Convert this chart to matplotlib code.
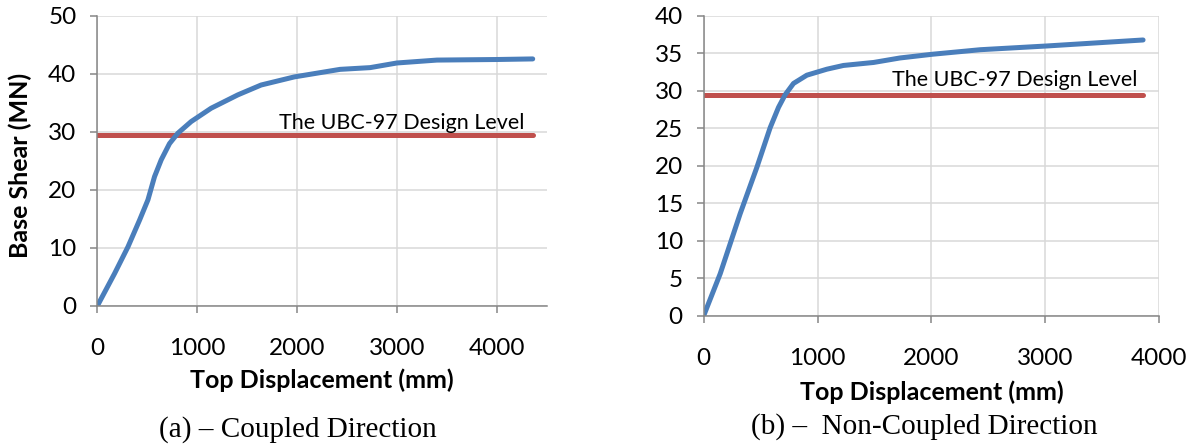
import matplotlib
matplotlib.use("Agg")
import matplotlib.pyplot as plt

# (a) coupled direction
disp_a = [0, 173, 307, 423, 507, 573, 640, 723, 807, 940, 1140, 1407, 1640, 1973,
          2431, 2732, 3000, 3401, 4003, 4360]
shear_a = [0, 5.6, 10.2, 14.8, 18.3, 22.3, 25.2, 28.0, 29.8, 31.8, 34.1, 36.4, 38.1, 39.5,
           40.8, 41.1, 41.9, 42.4, 42.5, 42.6]

# (b) non-coupled direction
disp_b = [0, 145, 320, 467, 584, 657, 716, 789, 906, 1082, 1228, 1493, 1725, 2012,
          2430, 3015, 3860]
shear_b = [0, 5.6, 13.6, 19.8, 25.1, 27.8, 29.5, 31.0, 32.1, 32.9, 33.4, 33.8, 34.4, 34.9,
           35.5, 36.0, 36.8]

design_level = 29.4
design_a = [0, 4360]
design_b = [0, 3860]

ticks_a_x = [0, 1000, 2000, 3000, 4000]
ticks_a_y = [0, 10, 20, 30, 40, 50]
ticks_b_x = [0, 1000, 2000, 3000, 4000]
ticks_b_y = [0, 5, 10, 15, 20, 25, 30, 35, 40]

label_text = "The UBC-97 Design Level"
xlabel = "Top Displacement (mm)"
ylabel = "Base Shear (MN)"
caption_a = "(a) \u2013 Coupled Direction"
caption_b = "(b) \u2013  Non-Coupled Direction"

blue = "#4a7ebb"
red = "#c0504d"
axis_gray = "#868686"
grid_gray = "#d9d9d9"
sans = ["Lato", "DejaVu Sans"]

fig = plt.figure(figsize=(11.93, 4.46), dpi=100)
W, H = 1193, 446


def make_axes(x0, x1, y0, y1):
	return fig.add_axes([x0 / W, 1 - y1 / H, (x1 - x0) / W, (y1 - y0) / H])


def style(ax, xticks, yticks, xlim, ylim):
	ax.set_xlim(*xlim)
	ax.set_ylim(*ylim)
	ax.set_xticks(xticks)
	ax.set_yticks(yticks)
	ax.grid(True, color=grid_gray, linewidth=1.1)
	ax.set_axisbelow(True)
	for s in ["top", "right"]:
		ax.spines[s].set_visible(False)
	for s in ["left", "bottom"]:
		ax.spines[s].set_color(axis_gray)
		ax.spines[s].set_linewidth(1.1)
	ax.tick_params(axis="both", direction="out", length=5, width=1.1, color=axis_gray,
				   labelsize=17.5, labelcolor="black")
	ax.tick_params(axis="x", pad=18)
	ax.tick_params(axis="y", pad=10)
	for lab in ax.get_xticklabels() + ax.get_yticklabels():
		lab.set_family(sans)


# left panel
ax1 = make_axes(97.3, 546.7, 16, 306)
style(ax1, ticks_a_x, ticks_a_y, (0, 4500), (0, 50))
ax1.plot(design_a, [design_level, design_level], color=red, lw=3.6, solid_capstyle="round")
ax1.plot(disp_a, shear_a, color=blue, lw=3.6, solid_capstyle="round", solid_joinstyle="round")
ax1.text(3051, 31.6, label_text, ha="center", va="center", fontsize=15.5, family=sans)
ax1.set_xlabel(xlabel, fontsize=18, fontweight="bold", family=sans, va="center")
ax1.xaxis.set_label_coords(0.5, -0.255)
ax1.set_ylabel(ylabel, fontsize=18, fontweight="bold", family=sans, va="center")
ax1.yaxis.set_label_coords(-0.172, 0.483)

# right panel
ax2 = make_axes(703.7, 1159, 16, 315.7)
style(ax2, ticks_b_x, ticks_b_y, (0, 4000), (0, 40))
ax2.plot(design_b, [design_level, design_level], color=red, lw=3.6, solid_capstyle="round")
ax2.plot(disp_b, shear_b, color=blue, lw=3.6, solid_capstyle="round", solid_joinstyle="round")
ax2.text(2735, 31.5, label_text, ha="center", va="center", fontsize=15.5, family=sans)
ax2.set_xlabel(xlabel, fontsize=18, fontweight="bold", family=sans, va="center")
ax2.xaxis.set_label_coords(0.5, -0.2546)

fig.text(298 / W, 1 - 430 / H, caption_a, ha="center", va="center", fontsize=21,
		 family="Liberation Serif")
fig.text(924 / W, 1 - 427 / H, caption_b, ha="center", va="center", fontsize=21,
		 family="Liberation Serif")

fig.savefig("out.png", dpi=100)
